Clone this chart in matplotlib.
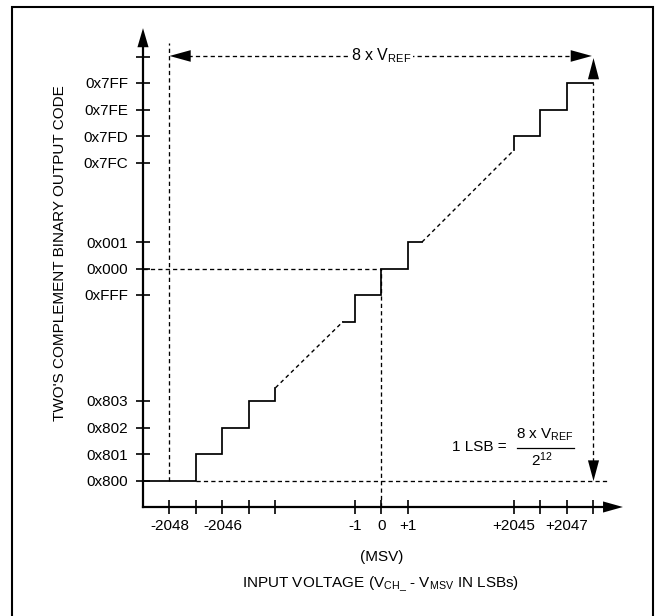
import matplotlib
matplotlib.use("Agg")
import matplotlib.pyplot as plt
from matplotlib import font_manager
from matplotlib.patches import Polygon, Rectangle

names = {f.name for f in font_manager.fontManager.ttflist}
NARROW = 'Liberation Sans Narrow' in names
FAM = 'Liberation Sans Narrow' if NARROW else 'Liberation Sans'
FS = 12.5 if NARROW else 11

plt.rcParams['font.family'] = [FAM, 'DejaVu Sans']
plt.rcParams['mathtext.fontset'] = 'custom'
plt.rcParams['mathtext.rm'] = FAM
plt.rcParams['mathtext.default'] = 'regular'

# ---- data (grid units: one LSB step / one code step) ----
y_codes = ['0x800', '0x801', '0x802', '0x803', '0xFFF', '0x000', '0x001',
           '0x7FC', '0x7FD', '0x7FE', '0x7FF', '']
y_levels = [1, 2, 3, 4, 8, 9, 10, 13, 14, 15, 16, 17]
x_steps = [1, 2, 3, 4, 5, 8, 9, 10, 14, 15, 16, 17]
x_tick_text = ['-2048', '', '-2046', '', '', '-1', '0', '+1',
               '+2045', '', '+2047', '']

# lower staircase (solid)
low_x = [0, 2, 2, 3, 3, 4, 4, 5, 5]
low_y = [1, 1, 2, 2, 3, 3, 4, 4, 4.5]
# middle staircase (solid)
mid_x = [7.55, 8, 8, 9, 9, 10, 10, 10.53]
mid_y = [7, 7, 8, 8, 9, 9, 10, 10]
# upper staircase (solid)
up_x = [14, 14, 15, 15, 16, 16, 17]
up_y = [13.47, 14, 14, 15, 15, 16, 16]
# dashed continuation segments
gap1_x = [5, 7.55]
gap1_y = [4.5, 7]
gap2_x = [10.53, 14]
gap2_y = [10, 13.47]

U = 26.5  # pixels per grid unit
W, H = 656, 616
ox, oy = 143, 507  # origin pixel (from top-left)

fig = plt.figure(figsize=(W / 100, H / 100), dpi=100)
ax = fig.add_axes([0, 0, 1, 1])
ax.set_xlim(-ox / U, (W - ox) / U)
ax.set_ylim(-(H - oy) / U, oy / U)
ax.set_facecolor('white')

for s in ['top', 'right']:
    ax.spines[s].set_visible(False)
ax.spines['left'].set_position(('data', 0))
ax.spines['bottom'].set_position(('data', 0))
ax.spines['left'].set_bounds(0, 17.5)
ax.spines['bottom'].set_bounds(0, 17.5)
ax.spines['left'].set_linewidth(1.6)
ax.spines['bottom'].set_linewidth(1.6)

ax.set_yticks(y_levels, y_codes)
ax.set_xticks(x_steps, x_tick_text)
ax.tick_params(axis='both', direction='inout', length=10, width=1.2,
               labelsize=FS, colors='black')
ax.tick_params(axis='y', pad=5.5)
ax.tick_params(axis='x', pad=4)


def head(tip, direction, length=0.72, half=0.21):
    tx, ty = tip
    dx, dy = direction
    bx, by = tx - dx * length, ty - dy * length
    px, py = -dy * half, dx * half
    ax.add_patch(Polygon([(tx, ty), (bx + px, by + py), (bx - px, by - py)],
                         closed=True, color='black', lw=0, clip_on=False))


head((0, 18.07), (0, 1))
head((18.11, 0), (1, 0), length=0.75)

sk = dict(color='black', lw=1.25, solid_joinstyle='miter')
ax.plot(low_x, low_y, **sk)
ax.plot(mid_x, mid_y, **sk)
ax.plot(up_x, up_y, **sk)
dk = dict(color='black', lw=1.0, linestyle=(0, (2.8, 2.4)))
ax.plot(gap1_x, gap1_y, **dk)
ax.plot(gap2_x, gap2_y, **dk)

hk = dict(color='black', lw=0.95, linestyle=(0, (3.2, 2.4)))
ax.plot([1, 1], [1, 17.5], **hk)
ax.plot([2, 17.55], [1, 1], **hk)
ax.plot([0, 9], [9, 9], **hk)
ax.plot([9, 9], [0, 9], **hk)
ax.plot([17, 17], [1.7, 16], **hk)
ax.plot([1.7, 16.2], [17.02, 17.02], **hk)

head((1, 17.02), (-1, 0), length=0.8, half=0.22)
head((16.94, 17.02), (1, 0), length=0.8, half=0.22)
head((17, 16.94), (0, 1), length=0.8, half=0.21)
head((17, 0.98), (0, -1), length=0.78, half=0.21)

ax.text(8.98, 17.02, r'8 x V$_{REF}$', ha='center', va='center',
        fontsize=FS + 0.5,
        bbox=dict(facecolor='white', edgecolor='none', pad=1.5))

ax.text(13.74, 2.26, '1 LSB =', ha='right', va='center', fontsize=FS)
ax.plot([14.11, 16.26], [2.23, 2.23], color='black', lw=0.9)
ax.text(15.17, 2.72, r'8 x V$_{REF}$', ha='center', va='center', fontsize=FS)
ax.text(15.06, 1.77, r'2$^{12}$', ha='center', va='center', fontsize=FS)

ax.text(9.02, -1.89, '(MSV)', ha='center', va='center', fontsize=FS)
ax.text(8.98, -2.94, r'INPUT VOLTAGE (V$_{CH\_}$ - V$_{MSV}$ IN LSBs)',
        ha='center', va='center', fontsize=FS)
ax.text(-3.13, 9.58, "TWO'S COMPLEMENT BINARY OUTPUT CODE", rotation=90,
        ha='center', va='center', fontsize=FS)

ax.add_patch(Rectangle((-131 / U, -5), (653 - 12) / U, 5 + (507 - 7) / U,
                       fill=False, edgecolor='black', lw=1.5, clip_on=False))

fig.savefig('out.png', dpi=100, facecolor='white')
